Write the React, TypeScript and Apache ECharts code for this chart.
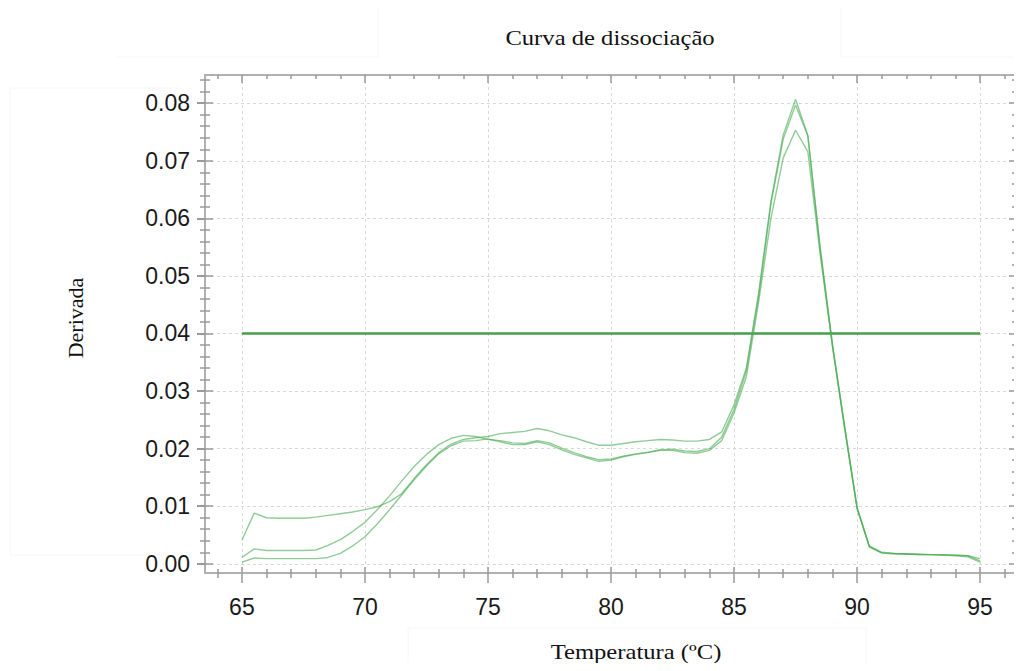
import React, { useEffect, useRef } from "react";
import * as echarts from "echarts";

// ---- data ----
const temperatures = [
  65, 65.5, 66, 66.5, 67, 67.5, 68, 68.5, 69, 69.5, 70, 70.5, 71, 71.5, 72, 72.5, 73, 73.5, 74, 74.5,
  75, 75.5, 76, 76.5, 77, 77.5, 78, 78.5, 79, 79.5, 80, 80.5, 81, 81.5, 82, 82.5, 83, 83.5, 84, 84.5,
  85, 85.5, 86, 86.5, 87, 87.5, 88, 88.5, 89, 89.5, 90, 90.5, 91, 91.5, 92, 92.5, 93, 93.5, 94, 94.5, 95,
];

const curveA = [
  0.0041, 0.0088, 0.008, 0.0079, 0.0079, 0.0079, 0.0081, 0.0084, 0.0087, 0.009, 0.0094, 0.0099, 0.0108,
  0.0122, 0.0148, 0.0172, 0.0193, 0.0208, 0.0216, 0.0219, 0.0221, 0.0226, 0.0228, 0.023, 0.0235, 0.0231,
  0.0224, 0.0219, 0.0212, 0.0206, 0.0206, 0.0209, 0.0212, 0.0214, 0.0216, 0.0215, 0.0213, 0.0213, 0.0216,
  0.0229, 0.0276, 0.034, 0.047, 0.063, 0.0745, 0.0807, 0.0744, 0.0546, 0.038, 0.0238, 0.0096, 0.0029,
  0.0019, 0.0017, 0.0017, 0.0016, 0.0016, 0.0015, 0.0015, 0.0014, 0.0005,
];

const curveB = [
  0.0011, 0.0026, 0.0023, 0.0023, 0.0023, 0.0023, 0.0024, 0.0032, 0.0042, 0.0056, 0.0072, 0.0094, 0.0118,
  0.0144, 0.0169, 0.019, 0.0207, 0.0218, 0.0223, 0.0221, 0.0216, 0.0214, 0.021, 0.0209, 0.0214, 0.021,
  0.0201, 0.0193, 0.0186, 0.0181, 0.0182, 0.0187, 0.0191, 0.0194, 0.0198, 0.0199, 0.0196, 0.0195, 0.02,
  0.022, 0.0268, 0.0335, 0.0465, 0.0625, 0.0738, 0.0797, 0.0743, 0.055, 0.0381, 0.0236, 0.0098, 0.003,
  0.0019, 0.0018, 0.0017, 0.0017, 0.0016, 0.0016, 0.0015, 0.0014, 0.0009,
];

const curveC = [
  0.0003, 0.001, 0.0009, 0.0009, 0.0009, 0.0009, 0.0009, 0.0011, 0.0018, 0.0031, 0.0047, 0.0069, 0.0094,
  0.012, 0.0146, 0.017, 0.0191, 0.0205, 0.0213, 0.0214, 0.0217, 0.0212, 0.0207, 0.0207, 0.0212, 0.0207,
  0.0198, 0.019, 0.0184, 0.0178, 0.018, 0.0186, 0.019, 0.0193, 0.0197, 0.0197, 0.0193, 0.0192, 0.0197,
  0.0214, 0.0262, 0.0325, 0.0455, 0.06, 0.0705, 0.0753, 0.0716, 0.0538, 0.0377, 0.0233, 0.0097, 0.0031,
  0.002, 0.0018, 0.0017, 0.0016, 0.0016, 0.0015, 0.0014, 0.0012, 0.0003,
];

const thresholdValue = 0.04;
const thresholdRange = [65, 95];

const xMajorTicks = [65, 70, 75, 80, 85, 90, 95];
const xMinorTicks = [64, 66, 67, 68, 69, 71, 72, 73, 74, 76, 77, 78, 79, 81, 82, 83, 84, 86, 87, 88, 89, 91, 92, 93, 94, 96];
const yMajorTicks = [0, 0.01, 0.02, 0.03, 0.04, 0.05, 0.06, 0.07, 0.08];
const yMinorTicks = [
  0.002, 0.004, 0.006, 0.008, 0.012, 0.014, 0.016, 0.018, 0.022, 0.024, 0.026, 0.028, 0.032, 0.034, 0.036,
  0.038, 0.042, 0.044, 0.046, 0.048, 0.052, 0.054, 0.056, 0.058, 0.062, 0.064, 0.066, 0.068, 0.072, 0.074,
  0.076, 0.078, 0.082, 0.084,
];

const titleText = "Curva de dissociação";
const xName = "Temperatura (ºC)";
const yName = "Derivada";

const X_MIN = 63.5;
const X_MAX = 96.5;
const Y_MIN = -0.0016;
const Y_MAX = 0.0849;

const AXIS_COLOR = "#b0b0b0";
const TICK_COLOR = "#9a9a9a";
const CURVE_COLOR = "rgba(70,170,80,0.6)";

function tickAxis(
  kind: "x" | "y",
  position: string,
  values: number[],
  length: number,
  inside: boolean,
  showLine: boolean
) {
  return {
    type: "value",
    position,
    min: kind === "x" ? X_MIN : Y_MIN,
    max: kind === "x" ? X_MAX : Y_MAX,
    axisLine: { show: showLine, onZero: false, lineStyle: { color: AXIS_COLOR, width: 2 } },
    axisTick: {
      show: true,
      inside,
      length,
      customValues: values,
      lineStyle: { color: TICK_COLOR, width: 1.5 },
    },
    axisLabel: { show: false },
    splitLine: { show: false },
  };
}

function pairs(ys: number[]) {
  return temperatures.map((t, i) => [t, ys[i]]);
}

export default function App() {
  const ref = useRef<HTMLDivElement>(null);

  useEffect(() => {
    if (!ref.current) return;
    const chart = echarts.init(ref.current, undefined, { renderer: "svg" });

    const labelFont = {
      fontFamily: "Liberation Sans, Arial, sans-serif",
      fontSize: 23,
      color: "#1a1a1a",
    };

    const serif = "Liberation Serif, Times New Roman, serif";

    const curveSeries = [curveA, curveB, curveC].map((c, i) => ({
      type: "line",
      name: "amostra " + (i + 1),
      data: pairs(c),
      showSymbol: false,
      symbol: "none",
      lineStyle: { color: CURVE_COLOR, width: 1.4 },
      z: 3,
    }));

    chart.setOption({
      animation: false,
      backgroundColor: "#ffffff",
      grid: { left: 205, top: 75, width: 812, height: 498, containLabel: false },
      xAxis: [
        {
          type: "value",
          position: "bottom",
          min: X_MIN,
          max: X_MAX,
          axisLine: { show: true, onZero: false, lineStyle: { color: AXIS_COLOR, width: 2 } },
          axisTick: {
            show: true,
            length: 10,
            customValues: xMajorTicks,
            lineStyle: { color: TICK_COLOR, width: 1.5 },
          },
          axisLabel: {
            show: true,
            customValues: xMajorTicks,
            margin: 22,
            ...labelFont,
            formatter: (v: number) => String(v),
          },
          splitLine: { show: true, lineStyle: { color: "#d9d9d9", width: 1, type: [3, 3] } },
        },
        tickAxis("x", "bottom", xMinorTicks, 5, false, false),
        tickAxis("x", "bottom", xMajorTicks, 6, true, false),
        tickAxis("x", "bottom", xMinorTicks, 4, true, false),
        tickAxis("x", "top", xMajorTicks, 8, true, true),
        tickAxis("x", "top", xMinorTicks, 4, true, false),
      ],
      yAxis: [
        {
          type: "value",
          position: "left",
          min: Y_MIN,
          max: Y_MAX,
          axisLine: { show: true, onZero: false, lineStyle: { color: AXIS_COLOR, width: 2 } },
          axisTick: {
            show: true,
            length: 8,
            customValues: yMajorTicks,
            lineStyle: { color: TICK_COLOR, width: 2 },
          },
          axisLabel: {
            show: true,
            customValues: yMajorTicks,
            margin: 15,
            ...labelFont,
            formatter: (v: number) => v.toFixed(2),
          },
          splitLine: { show: true, lineStyle: { color: "#d9d9d9", width: 1, type: [3, 3] } },
        },
        tickAxis("y", "left", yMinorTicks, 5, false, false),
        tickAxis("y", "left", yMajorTicks, 8, true, false),
        tickAxis("y", "left", yMinorTicks, 5, true, false),
        tickAxis("y", "right", yMajorTicks, 8, true, true),
        tickAxis("y", "right", yMinorTicks, 5, true, false),
      ],
      series: [
        {
          type: "line",
          name: "limiar",
          data: thresholdRange.map((t) => [t, thresholdValue]),
          showSymbol: false,
          symbol: "none",
          lineStyle: { color: "#46a04a", width: 2.5 },
          z: 2,
        },
        ...curveSeries,
      ],
      graphic: [
        // faint frame artifacts of the original figure
        {
          type: "polyline",
          silent: true,
          shape: { points: [[117, 57], [378, 57], [378, 6], [841, 6], [841, 57], [1022, 57]] },
          style: { stroke: "#f6f6f6", lineWidth: 1, fill: null },
        },
        {
          type: "polyline",
          silent: true,
          shape: { points: [[180, 88], [10, 88], [10, 555], [180, 555]] },
          style: { stroke: "#f6f6f6", lineWidth: 1, fill: null },
        },
        {
          type: "polyline",
          silent: true,
          shape: { points: [[408, 671], [408, 628], [866, 628], [866, 671]] },
          style: { stroke: "#f6f6f6", lineWidth: 1, fill: null },
        },
        {
          type: "text",
          x: 610,
          y: 37,
          scaleX: 1.12,
          style: {
            text: titleText,
            font: `22px ${serif}`,
            fill: "#111",
            align: "center",
            verticalAlign: "middle",
          },
        },
        {
          type: "text",
          x: 636,
          y: 651,
          scaleX: 1.12,
          style: {
            text: xName,
            font: `22px ${serif}`,
            fill: "#111",
            align: "center",
            verticalAlign: "middle",
          },
        },
        {
          type: "text",
          x: 75,
          y: 318,
          rotation: Math.PI / 2,
          style: {
            text: yName,
            font: `22px ${serif}`,
            fill: "#111",
            align: "center",
            verticalAlign: "middle",
          },
        },
      ],
    });

    return () => chart.dispose();
  }, []);

  return <div ref={ref} style={{ width: 1022, height: 671, margin: -8 }} />;
}
